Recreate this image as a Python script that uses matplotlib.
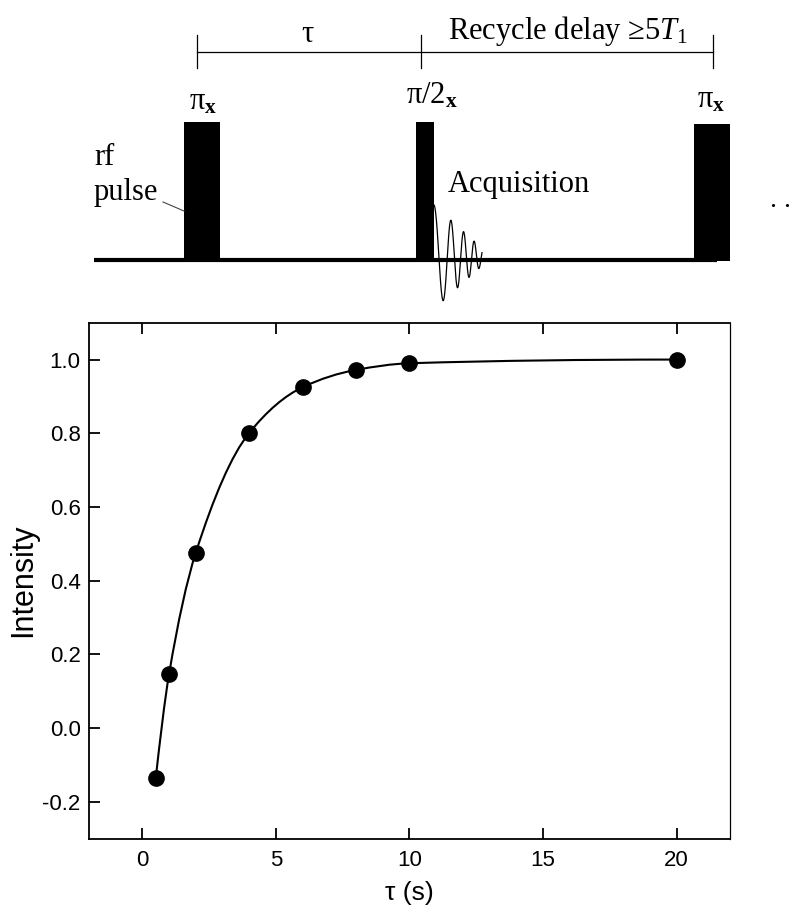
import numpy as np
import matplotlib
matplotlib.use("Agg")
import matplotlib.pyplot as plt
from matplotlib.path import Path
from matplotlib.patches import PathPatch

plt.rcParams['font.family'] = 'Liberation Sans'
plt.rcParams['axes.unicode_minus'] = False
plt.rcParams['mathtext.fontset'] = 'custom'
plt.rcParams['mathtext.rm'] = 'Liberation Serif'
plt.rcParams['mathtext.it'] = 'Liberation Serif:italic'
plt.rcParams['mathtext.bf'] = 'Liberation Serif:bold'

# Data (inversion recovery)
tau = [0.5, 1, 2, 4, 6, 8, 10, 20]
intensity = [-0.136, 0.147, 0.476, 0.801, 0.925, 0.972, 0.990, 1.0]
x_ticks = [0, 5, 10, 15, 20]
y_ticks = [-0.2, 0.0, 0.2, 0.4, 0.6, 0.8, 1.0]

# Pulse sequence labels
pulse_names = [r'$\mathrm{π}_{\mathbf{x}}$', r'$\mathrm{π/2}_{\mathbf{x}}$', r'$\mathrm{π}_{\mathbf{x}}$']
interval_names = ['τ', 'Recycle delay ≥5$T_1$']

# Diagram layout, in figure pixels (y down)
pulse_left = [184, 416, 694]
pulse_width = [36, 18, 36]
pulse_top = [122, 122, 124]
pulse_base = 260
name_x = [203, 432, 711]
name_y = [110, 104, 108]
mark_x = [197, 421, 713]
serif = 'Liberation Serif'

fig = plt.figure(figsize=(7.95, 9.07), dpi=100)

# ---- pulse sequence diagram ----
ax_d = fig.add_axes([0, 0, 1, 1])
ax_d.set_xlim(0, 795)
ax_d.set_ylim(907, 0)
ax_d.axis('off')

ax_d.plot([94, 717], [pulse_base, pulse_base], color='black', lw=3, solid_capstyle='butt')
ax_d.bar(pulse_left, [pulse_base + 1 - t for t in pulse_top], width=pulse_width,
         bottom=pulse_top, align='edge', color='black')
for name, nx, ny in zip(pulse_names, name_x, name_y):
    ax_d.text(nx, ny, name, fontsize=22, family=serif, ha='center', va='baseline')

# timing brackets
ax_d.plot([mark_x[0], mark_x[-1]], [52, 52], color='black', lw=0.9)
for mx in mark_x:
    ax_d.plot([mx, mx], [35, 68], color='black', lw=0.9)
ax_d.text((mark_x[0] + mark_x[1]) / 2 - 2, 42, interval_names[0], fontsize=22,
          family=serif, ha='center', va='baseline')
ax_d.text(448, 39.5, interval_names[1], fontsize=22, family=serif, ha='left', va='baseline')

# rf pulse label with leader
ax_d.text(94, 165, 'rf', fontsize=22, family=serif, ha='left', va='baseline')
ax_d.text(94, 200, 'pulse', fontsize=22, family=serif, ha='left', va='baseline')
ax_d.plot([163, 184], [202, 211], color='#444444', lw=0.8)

# acquisition / FID sketch
ax_d.text(448, 192, 'Acquisition', fontsize=22, family=serif, ha='left', va='baseline')
d = np.linspace(0, 48, 400)
env = 52 - 0.9 * d
phase = 0.2985 * d + 0.00423 * d ** 2
ax_d.plot(434 + d, 257 - env * np.cos(phase), color='black', lw=0.9)

# continuation dots (cut by the right edge in the original)
ax_d.text(770, 207, '. .', fontsize=20, family=serif, ha='left', va='baseline')

# ---- recovery curve ----
ax = fig.add_axes([0.1119, 0.0753, 0.8063, 0.5689])

x = np.asarray(tau, float)
y = np.asarray(intensity, float)
h = np.diff(x)
dl = np.diff(y) / h
m = np.zeros_like(x)
for k in range(1, len(x) - 1):
    if dl[k - 1] * dl[k] > 0:
        w1 = 2 * h[k] + h[k - 1]
        w2 = h[k] + 2 * h[k - 1]
        m[k] = (w1 + w2) / (w1 / dl[k - 1] + w2 / dl[k])
m[0] = ((2 * h[0] + h[1]) * dl[0] - h[0] * dl[1]) / (h[0] + h[1])
m[-1] = ((2 * h[-1] + h[-2]) * dl[-1] - h[-1] * dl[-2]) / (h[-1] + h[-2])
if m[-1] * dl[-1] < 0:
    m[-1] = 0
verts = [(x[0], y[0])]
codes = [Path.MOVETO]
for k in range(len(x) - 1):
    verts += [(x[k] + h[k] / 3, y[k] + m[k] * h[k] / 3),
              (x[k + 1] - h[k] / 3, y[k + 1] - m[k + 1] * h[k] / 3),
              (x[k + 1], y[k + 1])]
    codes += [Path.CURVE4] * 3
ax.add_patch(PathPatch(Path(verts, codes), fill=False, lw=1.5, color='black', zorder=2))
ax.plot(tau, intensity, 'o', ms=11, color='black', zorder=3)

ax.set_xlim(-2, 22)
ax.set_ylim(-0.3, 1.1)
ax.set_xticks(x_ticks)
ax.set_yticks(y_ticks)
ax.set_yticklabels([f'{v:.1f}' for v in y_ticks])
ax.tick_params(direction='in', top=True, right=False, length=7.6, width=1.3,
               labelsize=16)
ax.tick_params(axis='x', pad=8)
ax.tick_params(axis='y', pad=6)
for side in ['left', 'bottom', 'top']:
    ax.spines[side].set_linewidth(1.3)
ax.spines['right'].set_linewidth(0.9)
ax.set_xlabel('τ (s)', fontsize=19, labelpad=7)
ax.set_ylabel('Intensity', fontsize=22, labelpad=3)

fig.savefig('out.png', dpi=100)
